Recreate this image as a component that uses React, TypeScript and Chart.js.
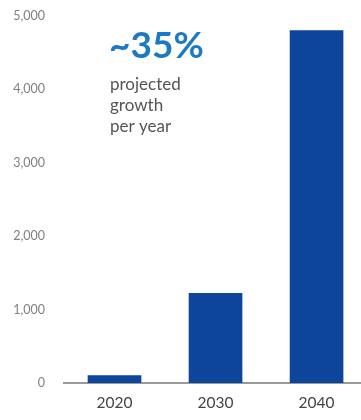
import React, { useEffect, useRef } from "react";
import { Chart, registerables } from "chart.js";

Chart.register(...registerables);

const categories = ["2020", "2030", "2040"];
const values = [100, 1220, 4800];
const yTicks = [0, 1000, 2000, 3000, 4000, 5000];
const headline = "~35%";
const subLines = ["projected", "growth", "per year"];

const annotationPlugin = {
  id: "annotation",
  afterDraw(chart: any) {
    const ctx = chart.ctx;
    ctx.save();
    ctx.textAlign = "left";
    ctx.textBaseline = "alphabetic";
    ctx.fillStyle = "#1b7ac2";
    ctx.font = "bold 37px Lato, 'Open Sans', sans-serif";
    ctx.fillText(headline, 109, 58);
    ctx.fillStyle = "#555555";
    ctx.font = "17px Lato, 'Open Sans', sans-serif";
    subLines.forEach((t, i) => ctx.fillText(t, 110, 90 + i * 21));
    ctx.restore();
  },
};

export default function App() {
  const ref = useRef<HTMLCanvasElement | null>(null);
  useEffect(() => {
    if (!ref.current) return;
    const chart = new Chart(ref.current, {
      type: "bar",
      data: {
        datasets: [
          {
            data: values.map((v, i) => ({ x: i, y: v })),
            backgroundColor: "#0c4599",
            barThickness: 53,
          },
        ],
      },
      options: {
        animation: false,
        responsive: false,
        maintainAspectRatio: false,
        layout: { padding: { top: 16, right: 0, bottom: 0, left: 0 } },
        plugins: { legend: { display: false }, tooltip: { enabled: false } },
        scales: {
          x: {
            type: "linear",
            min: -0.5,
            max: 2.44,
            offset: false,
            grid: { display: false, drawTicks: false, offset: false },
            border: { display: true, color: "#9a9a9a", width: 2 },
            afterBuildTicks: (scale: any) => {
              scale.ticks = categories.map((_, i) => ({ value: i }));
            },
            afterFit: (scale: any) => {
              scale.height = 37;
            },
            ticks: {
              padding: 11,
              color: "#444444",
              font: { size: 15.5, family: "Lato, 'Open Sans', sans-serif" },
              callback: (v: any) => categories[Math.round(Number(v))] ?? "",
            },
          },
          y: {
            min: 0,
            max: 5000,
            grid: { display: false, drawTicks: false },
            border: { display: false },
            afterBuildTicks: (scale: any) => {
              scale.ticks = yTicks.map((v) => ({ value: v }));
            },
            afterFit: (scale: any) => {
              scale.width = 64;
              scale.paddingTop = 0;
              scale.paddingBottom = 0;
            },
            ticks: {
              padding: 19,
              color: "#808080",
              font: { size: 12.5, family: "Lato, 'Open Sans', sans-serif" },
              callback: (v: any) => Number(v).toLocaleString("en-US"),
            },
          },
        },
      },
      plugins: [annotationPlugin],
    } as any);
    return () => chart.destroy();
  }, []);
  return (
    <div style={{ position: "fixed", left: 0, top: 0, width: 361, height: 420, background: "#fff" }}>
      <canvas ref={ref} width={361} height={420} style={{ display: "block" }} />
    </div>
  );
}
